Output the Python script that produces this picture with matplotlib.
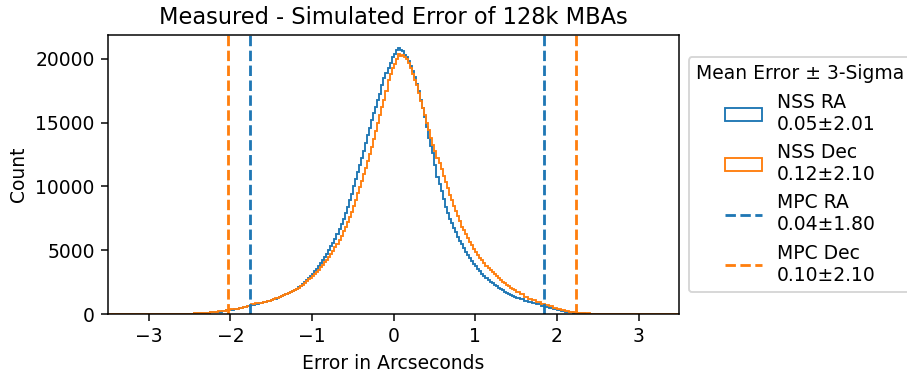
import numpy as np
import matplotlib
matplotlib.use("Agg")
import matplotlib.pyplot as plt
from matplotlib.ticker import MultipleLocator

# bins: 0.05" in the tails, 0.025" in the core, plus empty outer bins for the baseline
edges = np.concatenate([
    [-4.0],
    np.linspace(-2.7, -1.55, 24),
    np.linspace(-1.5, 1.475, 120),
    np.linspace(1.5, 2.7, 25),
    [4.0],
])

ra_left = [0, 10, 20, 30, 40, 55, 70, 90, 110, 135, 160, 190, 230, 280, 330, 400,
           470, 560, 650, 740, 810, 880, 950, 1030]
ra_core = [
    1090, 1150, 1200, 1260, 1320, 1390, 1460, 1540, 1620, 1700, 1800, 1900,
    2000, 2110, 2230, 2370, 2510, 2650, 2820, 2980, 3160, 3340, 3550, 3750,
    3980, 4220, 4470, 4730, 5000, 5300, 5600, 5900, 6260, 6640, 7050, 7450,
    7900, 8400, 8900, 9400, 10000, 10600, 11150, 11650, 12200, 12800, 13400, 14000,
    14600, 15200, 15750, 16250, 16750, 17250, 17900, 18500, 18900, 19300, 19700, 20100,
    20350, 20650, 20800, 20700, 20600, 20300, 20100, 19850, 19400, 19000, 18550, 18050,
    17450, 16750, 16150, 15450, 14650, 13800, 13200, 12600, 11700, 10750, 10200, 9600,
    9000, 8400, 7950, 7450, 7100, 6750, 6400, 6050, 5750, 5450, 5150, 4850,
    4620, 4380, 4150, 3950, 3750, 3550, 3350, 3150, 2980, 2820, 2680, 2530,
    2410, 2290, 2160, 2040, 1950, 1850, 1750, 1660, 1570, 1490, 1420, 1370,
]
ra_right = [1270, 1150, 1040, 940, 840, 750, 660, 570, 480, 390, 310, 240, 180, 130,
            95, 70, 50, 35, 25, 18, 12, 8, 5, 0]

dec_left = [0, 8, 15, 25, 35, 50, 65, 85, 110, 140, 170, 210, 250, 300, 360, 430,
            510, 590, 670, 750, 830, 900, 980, 1060]
dec_core = [
    1120, 1180, 1230, 1290, 1350, 1410, 1480, 1560, 1630, 1710, 1800, 1880,
    1980, 2080, 2190, 2310, 2440, 2560, 2710, 2850, 3000, 3160, 3320, 3480,
    3670, 3850, 4050, 4250, 4480, 4720, 4970, 5230, 5500, 5800, 6130, 6470,
    6820, 7180, 7600, 8000, 8450, 8950, 9450, 9950, 10450, 10950, 11450, 11950,
    12500, 13100, 13700, 14300, 15000, 15600, 16200, 16800, 17500, 18300, 18800, 19250,
    19600, 19950, 20350, 20200, 20300, 20150, 19950, 19650, 19250, 18800, 18350, 17900,
    17300, 16700, 16150, 15600, 15000, 14400, 13800, 13250, 12750, 12250, 11850, 11350,
    10850, 10350, 9850, 9350, 8900, 8500, 8050, 7650, 7250, 6850, 6550, 6250,
    5950, 5650, 5400, 5100, 4850, 4630, 4400, 4200, 4000, 3800, 3630, 3460,
    3290, 3120, 2970, 2830, 2690, 2550, 2420, 2300, 2190, 2080, 1970, 1870,
]
dec_right = [1720, 1540, 1370, 1210, 1070, 940, 820, 710, 610, 510, 420, 340, 260,
             190, 140, 100, 70, 50, 35, 25, 18, 12, 6, 0]

nss_ra_counts = [0] + ra_left + ra_core + ra_right + [0]
nss_dec_counts = [0] + dec_left + dec_core + dec_right + [0]

# MPC mean error and 3-sigma (dashed lines)
mpc_ra_mean, mpc_ra_sig3 = 0.04, 1.80
mpc_dec_mean, mpc_dec_sig3 = 0.10, 2.13

labels = ['NSS RA\n0.05±2.01', 'NSS Dec\n0.12±2.10',
          'MPC RA\n0.04±1.80', 'MPC Dec\n0.10±2.10']

# default styling, rendered at a higher dpi
fig = plt.figure(figsize=(907 / 135, 373 / 135), dpi=135)
ax = fig.add_axes([0.119, 0.158, 0.630, 0.748])

centers = (edges[:-1] + edges[1:]) / 2
ax.hist(centers, bins=edges, weights=nss_ra_counts, histtype='step',
        color='C0', label=labels[0])
ax.hist(centers, bins=edges, weights=nss_dec_counts, histtype='step',
        color='C1', label=labels[1])

ax.axvline(mpc_ra_mean - mpc_ra_sig3, color='C0', ls='--', lw=1.5, label=labels[2])
ax.axvline(mpc_ra_mean + mpc_ra_sig3, color='C0', ls='--', lw=1.5)
ax.axvline(mpc_dec_mean - mpc_dec_sig3, color='C1', ls='--', lw=1.5, label=labels[3])
ax.axvline(mpc_dec_mean + mpc_dec_sig3, color='C1', ls='--', lw=1.5)

ax.set_xlim(-3.5, 3.5)
ax.set_ylim(0, 21850)
ax.yaxis.set_major_locator(MultipleLocator(5000))
ax.set_xlabel('Error in Arcseconds')
ax.set_ylabel('Count')
ax.set_title('Measured - Simulated Error of 128k MBAs')

ax.legend(title='Mean Error ± 3-Sigma', loc='center left',
          bbox_to_anchor=(1.0, 0.5))

fig.savefig('out.png', dpi=135)
